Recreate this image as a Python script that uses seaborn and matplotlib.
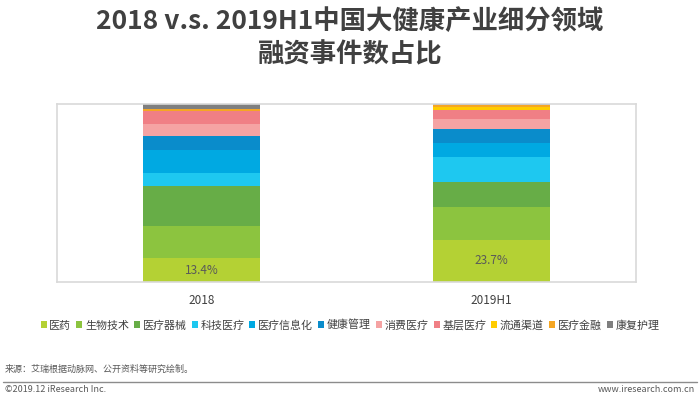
import pandas as pd
import matplotlib.pyplot as plt
import seaborn as sns
from matplotlib.patches import Patch

sns.set_style('white')
plt.rcParams['font.family'] = ['Noto Sans CJK SC', 'DejaVu Sans']

## data
years = ['2018', '2019H1']
segments = ['医药', '生物技术', '医疗器械', '科技医疗', '医疗信息化', '健康管理',
            '消费医疗', '基层医疗', '流通渠道', '医疗金融', '康复护理']
share_2018 = [13.4, 17.8, 22.5, 7.5, 13.2, 7.9, 6.6, 7.0, 0.2, 1.1, 2.8]
share_2019h1 = [23.7, 18.2, 14.5, 13.6, 8.1, 7.9, 5.8, 5.1, 1.5, 1.3, 0.3]
colors = ['#b4d134', '#8cc43f', '#67ad47', '#1ec8f0', '#00a9e2', '#0a8ccb',
          '#f5a3a3', '#f07f85', '#ffcc00', '#f5a623', '#7f7f7f']

df = pd.DataFrame({'2018': share_2018, '2019H1': share_2019h1}, index=segments)
cum = df.cumsum()

fig = plt.figure(figsize=(7, 3.97), dpi=100)
ax = fig.add_axes([0.0814, 0.2897, 0.8272, 0.4483])

## stacked bars: draw cumulative totals from the top segment down
for seg, col in reversed(list(zip(segments, colors))):
    d = pd.DataFrame({'year': years, 'value': cum.loc[seg, years].values})
    sns.barplot(data=d, x='year', y='value', color=col, width=0.405,
                saturation=1, ax=ax, order=years, linewidth=0, edgecolor='none')

## label for 医药 share
for i, y in enumerate(years):
    v = df.loc['医药', y]
    ax.text(i, v / 2, f'{v}%', ha='center', va='center', fontsize=8.5, color='#595959')

ax.set_xlim(-0.5, 1.5)
ax.set_ylim(0, 100)
ax.set_yticks([])
ax.set_xlabel('')
ax.set_ylabel('')
ax.tick_params(axis='x', length=0, pad=9, labelsize=8.5, labelcolor='#404040')
for s in ax.spines.values():
    s.set_color('#d9d9d9')
    s.set_linewidth(1.2)

## title
fig.text(0.5, 0.945, '2018 v.s. 2019H1中国大健康产业细分领域', ha='center', va='center',
         fontsize=19, fontweight='bold', color='#404040')
fig.text(0.5, 0.862, '融资事件数占比', ha='center', va='center',
         fontsize=19, fontweight='bold', color='#404040')

## legend
handles = [Patch(facecolor=c, edgecolor='none') for c in colors]
fig.legend(handles, segments, loc='center', bbox_to_anchor=(0.5, 0.181), ncol=11,
           frameon=False, fontsize=7.9, handlelength=0.55, handleheight=0.55,
           handletextpad=0.25, columnspacing=0.45, labelcolor='#404040',
           borderpad=0, borderaxespad=0)

## footer
fig.text(0.007, 0.07, '来源：艾瑞根据动脉网、公开资料等研究绘制。', ha='left', va='center',
         fontsize=6.5, color='#595959')
fig.add_artist(plt.Line2D([0.004, 0.996], [0.038, 0.038], color='#8c8c8c', linewidth=1))
fig.text(0.007, 0.018, '©2019.12 iResearch Inc.', ha='left', va='center',
         fontsize=6.5, color='#595959')
fig.text(0.993, 0.018, 'www.iresearch.com.cn', ha='right', va='center',
         fontsize=6.5, color='#595959')

plt.savefig('out.png', dpi=100)
